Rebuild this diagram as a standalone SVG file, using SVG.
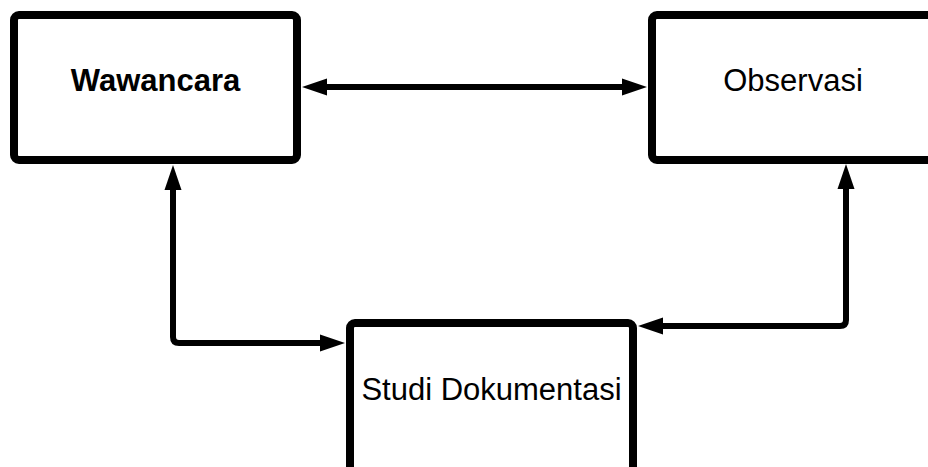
<svg xmlns="http://www.w3.org/2000/svg" width="928" height="467" viewBox="0 0 928 467">
<style>
.box{fill:#fff;stroke:#000;stroke-width:8}
.lbl{font-family:"Liberation Sans",Arial,sans-serif;font-size:31px;fill:#000;text-anchor:middle}
.con{fill:none;stroke:#000;stroke-width:6}
</style>
<defs>
<marker id="ah" markerUnits="userSpaceOnUse" markerWidth="26" markerHeight="18" viewBox="0 0 26 18" refX="0" refY="9" orient="auto-start-reverse">
<path d="M0,0.5 L25,9 L0,17.5 z" fill="#000"/>
</marker>
</defs>
<rect width="928" height="467" fill="#fff"/>
<g id="connectors">
<path class="con" d="M327,87 H622" marker-start="url(#ah)" marker-end="url(#ah)"/>
<path class="con" d="M173,190 V337 Q173,343 179,343 H320" marker-start="url(#ah)" marker-end="url(#ah)"/>
<path class="con" d="M846,189 V320 Q846,326 840,326 H663" marker-start="url(#ah)" marker-end="url(#ah)"/>
</g>
<g id="wawancara">
<rect class="box" x="14" y="15" width="283" height="145" rx="5"/>
<text class="lbl" x="155.5" y="91" font-weight="bold">Wawancara</text>
</g>
<g id="observasi">
<rect class="box" x="652" y="15" width="283" height="145" rx="5"/>
<text class="lbl" x="793" y="91">Observasi</text>
</g>
<g id="studi">
<rect class="box" x="350" y="323" width="283" height="160" rx="5"/>
<text class="lbl" x="491.5" y="400">Studi Dokumentasi</text>
</g>
</svg>
